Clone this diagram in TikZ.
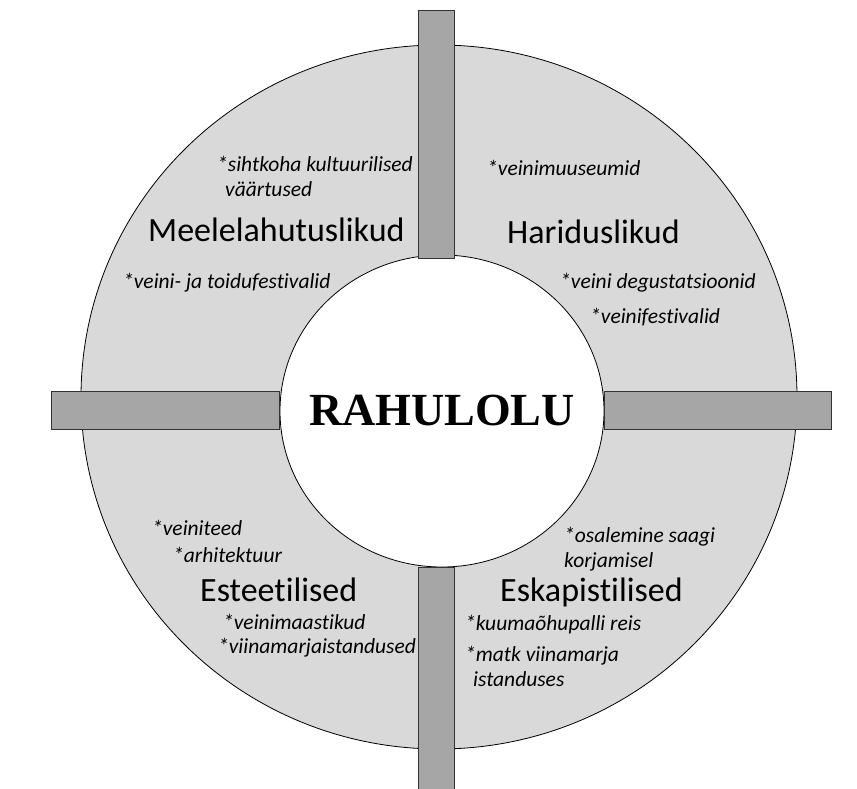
\documentclass[tikz,border=0pt]{standalone}
\usepackage{fontspec}
\setmainfont{Carlito}[Ligatures=NoCommon]
\newfontfamily\titlefont{Liberation Serif}
\definecolor{ringgray}{HTML}{D9D9D9}
\definecolor{bargray}{HTML}{A6A6A6}

\begin{document}
\begin{tikzpicture}[x=1pt,y=-1pt,
    category/.style={inner sep=0pt, anchor=west, font=\fontsize{34}{38}\selectfont},
    item/.style={inner sep=0pt, anchor=west, align=left, font=\fontsize{21.5}{25}\selectfont\itshape},
    bar/.style={draw=black!80, fill=bargray, line width=1pt}]
    \useasboundingbox (0,0) rectangle (857,789);
    \fill[white] (0,0) rectangle (857,789);

    \draw[fill=ringgray, line width=0.8pt] (439,397) ellipse [x radius=358, y radius=352];
    \draw[fill=white, line width=0.8pt] (442,411) ellipse [x radius=162, y radius=156];

    \draw[bar] (418,11) rectangle (454,258);
    \draw[bar] (418,567) rectangle (454,800);
    \draw[bar] (51,391) rectangle (279,429);
    \draw[bar] (604,391) rectangle (831,429);

    \node[font=\titlefont\bfseries\fontsize{46}{50}\selectfont] (rahulolu) at (442,410) {RAHULOLU};

    \node[item] (sihtkoha) at (217,176) {*sihtkoha kultuurilised\\\hspace{8pt}väärtused};
    \node[category] (meele) at (148,230) {Meelelahutuslikud};
    \node[item] (toidu) at (123,283) {*veini- ja toidufestivalid};

    \node[item] (muuseum) at (487,168) {*veinimuuseumid};
    \node[category] (haridus) at (507,232) {Hariduslikud};
    \node[item] (degust) at (560,283) {*veini degustatsioonid};
    \node[item] (festival) at (590,317) {*veinifestivalid};

    \node[item] (veiniteed) at (152,528) {*veiniteed};
    \node[item] (arhitekt) at (173,555) {*arhitektuur};
    \node[category] (esteet) at (200,590) {Esteetilised};
    \node[item] (maastik) at (223,622) {*veinimaastikud};
    \node[item] (istandus) at (218,648) {*viinamarjaistandused};

    \node[item] (saak) at (564,549) {*osalemine saagi\\korjamisel};
    \node[category] (eskapist) at (500,592) {Eskapistilised};
    \node[item] (palli) at (465,625) {*kuumaõhupalli reis};
    \node[item] (matk) at (465,666) {*matk viinamarja\\\hspace{8pt}istanduses};
\end{tikzpicture}
\end{document}
